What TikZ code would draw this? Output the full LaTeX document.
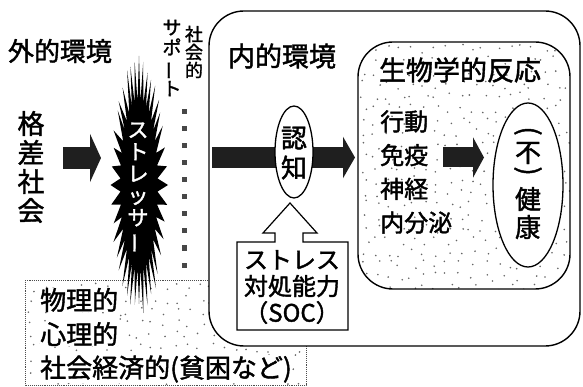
\documentclass[tikz,border=0pt]{standalone}
\usepackage{fontspec}
\setmainfont{Noto Sans CJK JP}[FakeBold=1.6]
\usetikzlibrary{shapes.geometric,arrows.meta}
\newcommand{\vbar}{\rotatebox[origin=c]{90}{ー}}
\begin{document}
\begin{tikzpicture}[x=1pt,y=-1pt,
  txt/.style={inner sep=0pt, align=center, font=\fontsize{#1}{#1}\selectfont},
  txt/.default=26,
  vtxt/.style 2 args={inner sep=0pt, align=center, font=\fontsize{#1}{#2}\selectfont},
  bigarrow/.style={draw=black!88, line width=#1},
  speck/.style={fill=black!60},
  frame/.style={draw=black, line width=1.4pt},
  dotbox/.style={draw=black!70, line width=0.9pt, densely dotted}]
\useasboundingbox (0,0) rectangle (583,387);
\fill[white] (0,0) rectangle (583,387);

% ---- bottom-left box (physical / psychological / socioeconomic)
\pgfmathsetseed{11}
\begin{scope}
  \clip (25,280) rectangle (306,385);
  \foreach \sx in {28,40,...,304} \foreach \sy in {283,295,...,383} {
    \pgfmathsetmacro\ox{\sx+9*rnd}
    \pgfmathsetmacro\oy{\sy+9*rnd}
    \fill[speck] (\ox,\oy) circle[radius=0.9];
  }
\end{scope}
\draw[dotbox] (25,280) rectangle (306,385);
\node[txt, anchor=west, fill=white] (phys) at (40,300) {物理的};
\node[txt, anchor=west, fill=white] (psy) at (40,334) {心理的};
\node[txt, anchor=west, fill=white] (socio) at (40,369) {社会経済的(貧困など)};

% ---- stressor starburst
\begin{scope}[shift={(139,185)}, x=29pt, y=131pt]
  \fill[black] (0:1) \foreach \i in {1,...,79} {
    -- ({\i*4.5}:{mod(\i,2)==0 ? (0.9+0.1*rnd) : 0.64}) } -- cycle;
\end{scope}
\node[vtxt={21}{22}, text=white] (stressor) at (138,188)
  {ス\\ト\\レ\\ッ\\サ\\\vbar};

% ---- outer environment
\node[txt] (gaiteki) at (60,51) {外的環境};
\node[vtxt={27}{29}] (kakusa) at (31,167) {格\\差\\社\\会};
\coordinate (a1s) at (63,158);
\coordinate (a1e) at (101,158);
\draw[bigarrow=22pt, -{Triangle[length=11pt,width=48pt]}] (a1s) -- (a1e);

\node[vtxt={18}{18}] (shakai) at (194,52) {社\\会\\的};
\node[vtxt={19}{20}] (support) at (172,58) {サ\\ポ\\\vbar\\ト};
\foreach \k in {0,...,9}
  \fill[black!72] (181.5,{109.5+17*\k}) rectangle ++(5,5);

% ---- inner environment
\draw[frame, fill=white, rounded corners=35pt] (209,11) rectangle (580,346);
\node[txt={27}] (naiteki) at (282,56) {内的環境};

% ---- biological response box
\pgfmathsetseed{5}
\begin{scope}
  \clip[rounded corners=35pt] (358,42) rectangle (570,289);
  \foreach \sx in {360,372,...,568} \foreach \sy in {44,56,...,288} {
    \pgfmathsetmacro\ox{\sx+9*rnd}
    \pgfmathsetmacro\oy{\sy+9*rnd}
    \fill[speck] (\ox,\oy) circle[radius=0.9];
  }
\end{scope}
\draw[frame, rounded corners=35pt] (358,42) rectangle (570,289);
\node[txt={27}] (seibutsu) at (460,70) {生物学的反応};
\node[vtxt={24}{33.7}, align=left, anchor=west] (bio) at (380,172)
  {行動\\免疫\\神経\\内分泌};

% ---- cognition
\coordinate (a2s) at (212,157.5);
\coordinate (a2e) at (355,157.5);
\draw[bigarrow=21pt, -{Triangle[length=12pt,width=41pt]}] (a2s) -- (a2e);
\node[ellipse, draw, line width=1.3pt, fill=white, inner sep=0pt,
      minimum width=38pt, minimum height=92pt] (ninchi) at (294,152) {};
\node[vtxt={26}{30}] (ninchitxt) at (294,153) {認\\知};

% ---- coping capacity box with hollow arrow
\draw[line width=1.2pt, fill=white, line join=miter]
  (237,242) -- (275,242) -- (275,233) -- (263,233) -- (290,203)
  -- (317,233) -- (303,233) -- (303,242) -- (348,242) -- (348,330)
  -- (237,330) -- cycle;
\node[vtxt={24}{26.5}] (soc) at (292,287) {ストレス\\対処能力\\（SOC）};

% ---- health
\coordinate (a3s) at (443,157.5);
\coordinate (a3e) at (484,157.5);
\draw[bigarrow=20pt, -{Triangle[length=11pt,width=40pt]}] (a3s) -- (a3e);
\node[ellipse, draw, line width=1.3pt, fill=white, inner sep=0pt,
      minimum width=70pt, minimum height=164pt] (kenkou) at (528,185) {};
\node[txt={27}] (po) at (528,133) {\rotatebox[origin=c]{-90}{(}};
\node[txt] (fu) at (528,153) {不};
\node[txt={27}] (pc) at (528,173) {\rotatebox[origin=c]{-90}{)}};
\node[txt] (ken) at (528,199) {健};
\node[txt] (kou) at (528,227) {康};
\end{tikzpicture}
\end{document}
